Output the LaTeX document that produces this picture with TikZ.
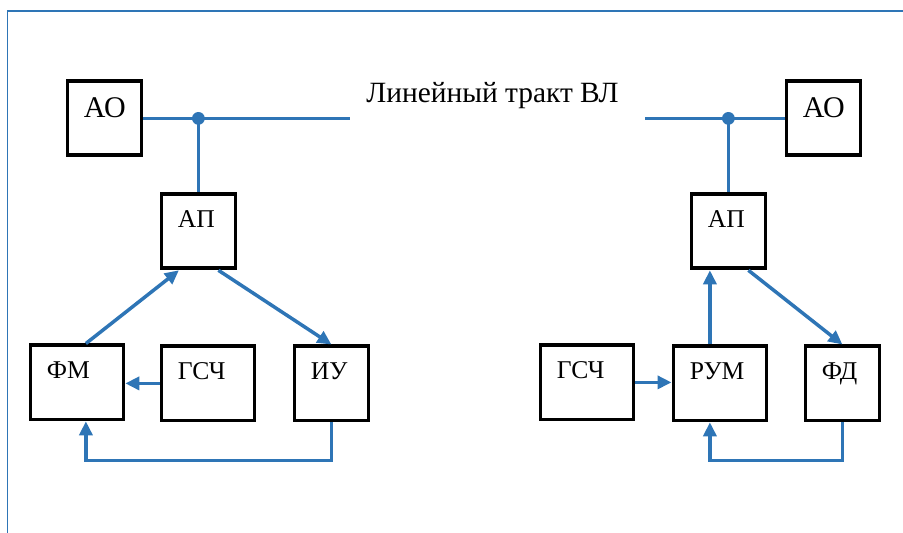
\documentclass[tikz,border=0pt]{standalone}
\usepackage{fontspec}
\setmainfont{Liberation Serif}
\usetikzlibrary{arrows.meta}
\definecolor{lineblue}{RGB}{46,117,182}

\begin{document}
\begin{tikzpicture}[x=0.5pt, y=-0.5pt,
	box/.style={draw, line width=1.9pt, anchor=north west, inner xsep=8.25pt, inner ysep=0pt,
		align=left, text height=16.5pt, text depth=20.5pt, font=\fontsize{12.8}{15}\selectfont},
	smallbox/.style={box, text width=20.5pt},
	widebox/.style={box, text width=30pt},
	aobox/.style={smallbox, text height=18.25pt, text depth=18.75pt, font=\fontsize{15}{17}\selectfont},
	wire/.style={draw=lineblue, line width=1.75pt},
	arr/.style={wire, -{Triangle[length=7pt, width=6.5pt]}}]

\useasboundingbox (0,0) rectangle (903,533);

%frame
\draw[lineblue, line width=0.8pt] (7.5,533) -- (7.5,11) -- (903,11);

%boxes
\node[aobox] (aoL) at (65.5,79.5) {АО};
\node[smallbox] (apL) at (159.5,192.5) {АП};
\node[widebox] (fm) at (28.5,343.5) {ФМ};
\node[widebox] (gscL) at (159.5,344.5) {ГСЧ};
\node[smallbox] (iu) at (292.5,344.5) {ИУ};

\node[aobox] (aoR) at (784.5,79.5) {АО};
\node[smallbox] (apR) at (689.5,192.5) {АП};
\node[widebox] (gscR) at (538.5,343.5) {ГСЧ};
\node[widebox] (rum) at (671.5,344.5) {РУМ};
\node[smallbox] (fd) at (803.5,344.5) {ФД};

%line
\node[font=\fontsize{14.7}{17}\selectfont, anchor=base] (vl) at (492.5,103) {Линейный тракт ВЛ};
\coordinate (lineL) at (350,116);
\coordinate (lineR) at (645,116);
\coordinate (jL) at (aoL.east -| apL.north);
\coordinate (jR) at (aoR.west -| apR.north);
\draw[wire] (aoL.east) -- (aoL.east -| lineL);
\draw[wire] (aoR.west -| lineR) -- (aoR.west);
\draw[wire] (jL) -- (apL.north);
\draw[wire] (jR) -- (apR.north);
\fill[lineblue] (jL) circle (3.2pt);
\fill[lineblue] (jR) circle (3.2pt);

%transmitter
\coordinate (fmUp) at ([xshift=4.5pt]fm.north);
\coordinate (fmDn) at ([xshift=4.5pt]fm.south);
\draw[arr] (fmUp) -- ([xshift=-9.75pt]apL.south);
\draw[arr] ([xshift=10pt]apL.south) -- (iu.north);
\draw[arr] (gscL.west) -- (gscL.west -| fm.east);
\draw[arr] (iu.south) -- ++(0,38) -| (fmDn);

%receiver
\coordinate (rumUp) at ([xshift=-5pt]rum.north);
\coordinate (rumDn) at ([xshift=-5pt]rum.south);
\draw[arr] (rumUp) -- (rumUp |- apR.south);
\draw[arr] ([xshift=10pt]apR.south) -- (fd.north);
\draw[arr] (gscR.east) -- (gscR.east -| rum.west);
\draw[arr] (fd.south) -- ++(0,38) -| (rumDn);

\end{tikzpicture}
\end{document}
